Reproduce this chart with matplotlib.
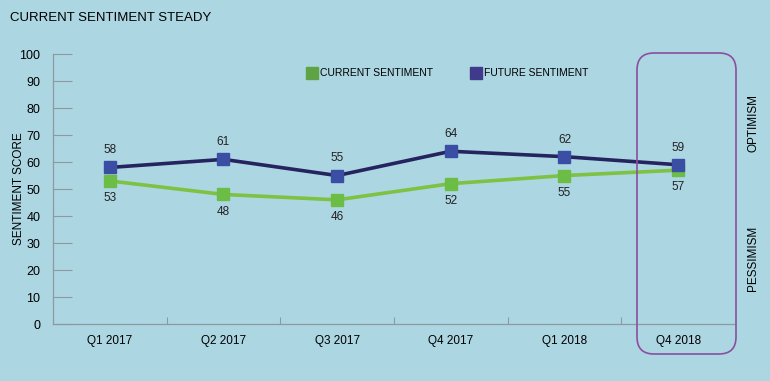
import matplotlib.pyplot as plt
from matplotlib.patches import FancyBboxPatch
from matplotlib.lines import Line2D

quarters = ["Q1 2017", "Q2 2017", "Q3 2017", "Q4 2017", "Q1 2018", "Q4 2018"]
current = [53, 48, 46, 52, 55, 57]
future = [58, 61, 55, 64, 62, 59]

bg = "#add6e3"
green_line = "#7dc242"
green_mark = "#6cbd45"
navy_line = "#25245f"
navy_mark = "#3a4ea3"
purple = "#8a4f9e"
grey = "#8c9aa0"

plt.rcParams["font.family"] = ["Liberation Sans", "DejaVu Sans"]

fig = plt.figure(figsize=(7.7, 3.81), dpi=100, facecolor=bg)
ax = fig.add_axes([0.0688, 0.1496, 0.8857, 0.7084], facecolor=bg)

x = list(range(len(quarters)))
ax.plot(x, current, color=green_line, linewidth=2.6, marker="s", markersize=8,
        markerfacecolor=green_mark, markeredgecolor=green_mark, zorder=3)
ax.plot(x, future, color=navy_line, linewidth=2.6, marker="s", markersize=8,
        markerfacecolor=navy_mark, markeredgecolor=navy_mark, zorder=4)

for xi, c, f in zip(x, current, future):
    ax.annotate(str(f), (xi, f), xytext=(0, 8), textcoords="offset points",
                ha="center", va="bottom", fontsize=8.5, color="#222222")
    ax.annotate(str(c), (xi, c), xytext=(0, -8), textcoords="offset points",
                ha="center", va="top", fontsize=8.5, color="#222222")

ax.set_xlim(-0.5, 5.5)
ax.set_ylim(0, 100)
ax.set_yticks(range(0, 101, 10))
ax.tick_params(axis="y", direction="in", length=14, color=grey, width=0.8,
               labelsize=9, pad=9)
ax.set_xticks(x)
ax.set_xticklabels(quarters)
ax.tick_params(axis="x", which="major", length=0, labelsize=8.5, pad=8)
ax.set_xticks([i - 0.5 for i in range(1, 6)], minor=True)
ax.tick_params(axis="x", which="minor", direction="in", length=5, color=grey, width=0.8)

for s in ["top", "right"]:
    ax.spines[s].set_visible(False)
for s in ["left", "bottom"]:
    ax.spines[s].set_color(grey)
    ax.spines[s].set_linewidth(0.9)

ax.set_ylabel("SENTIMENT SCORE", fontsize=8.5)
ax.yaxis.set_label_coords(-0.041, 0.5)

handles = [Line2D([], [], linestyle="none", marker="s", markersize=9,
                  markerfacecolor="#5fa344", markeredgecolor="#5fa344"),
           Line2D([], [], linestyle="none", marker="s", markersize=9,
                  markerfacecolor="#3f3a8c", markeredgecolor="#3f3a8c")]
fig.legend(handles, ["CURRENT SENTIMENT", "FUTURE SENTIMENT"], ncol=2,
           loc="center left", bbox_to_anchor=(0.386, 0.808), frameon=False,
           fontsize=7.5, handletextpad=0.3, columnspacing=3.6, handlelength=1.0)

fig.text(0.013, 0.952, "CURRENT SENTIMENT STEADY", fontsize=9.5, ha="left", va="center")
fig.text(0.978, 0.678, "OPTIMISM", fontsize=8.5, rotation=90, ha="center", va="center")
fig.text(0.978, 0.322, "PESSIMISM", fontsize=8.5, rotation=90, ha="center", va="center")

box = FancyBboxPatch((6.37, 0.27), 0.99, 3.01, boxstyle="round,pad=0,rounding_size=0.17",
                     transform=fig.dpi_scale_trans, facecolor="none",
                     edgecolor=purple, linewidth=1.2, zorder=10)
fig.patches.append(box)

fig.savefig("out.png", dpi=100, facecolor=bg)
